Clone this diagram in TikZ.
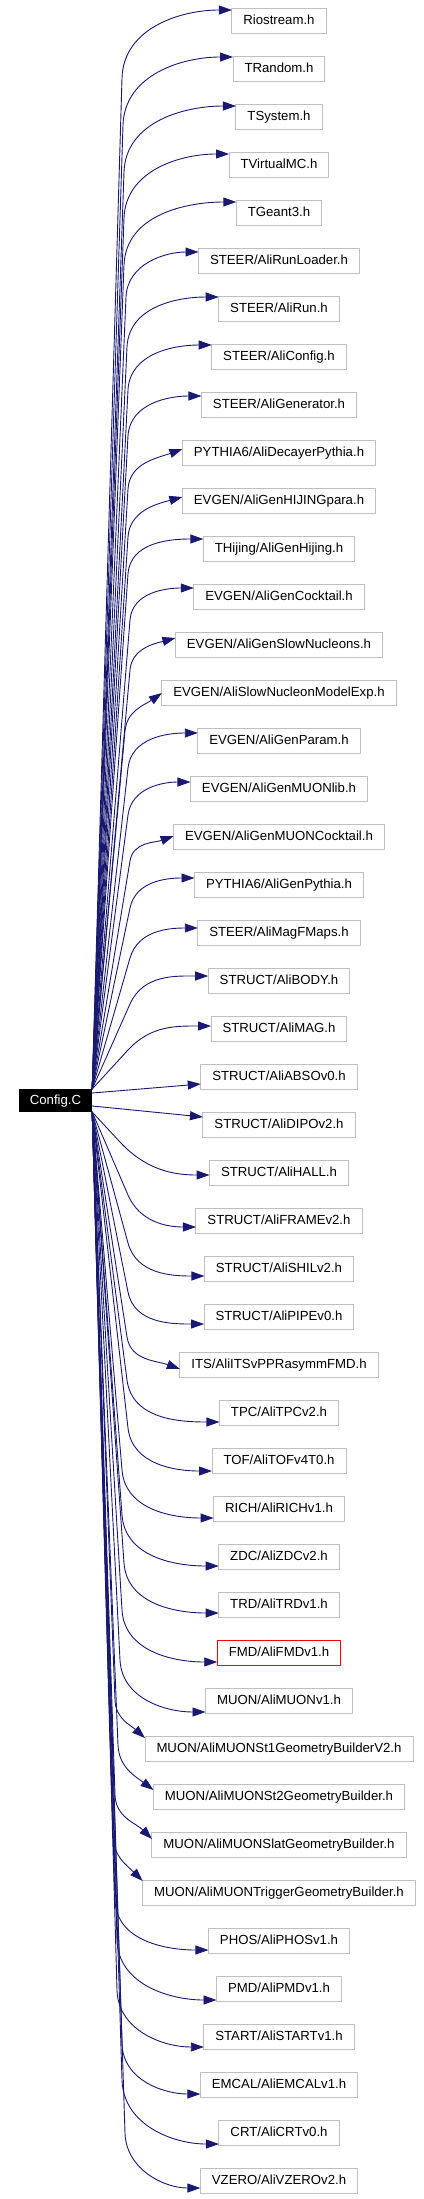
\documentclass[tikz,border=0pt]{standalone}
\usepackage{fontspec}
\setmainfont{Liberation Sans}
\usetikzlibrary{arrows.meta,calc,positioning}
\definecolor{edgeblue}{HTML}{191970}
\definecolor{boxgrey}{HTML}{BFBFBF}

\begin{document}
\begin{tikzpicture}[x=1pt,y=1pt,
  every node/.style={font=\fontsize{13.2}{15}\selectfont},
  hdr/.style={draw=boxgrey,line width=1pt,minimum height=25pt,inner xsep=11.5pt,
              inner ysep=0pt,outer sep=0pt,text height=9.6pt,text depth=2.6pt},
  cfgbox/.style={fill=black,text=white,minimum height=23pt,inner xsep=11pt,
                 inner ysep=0pt,outer sep=0pt,text height=9.6pt,text depth=2.6pt},
  dep/.style={draw=edgeblue,line width=0.9pt,-{Triangle[length=13pt,width=9pt]}}
]
\useasboundingbox (0,0) rectangle (423,-2199);
\node[cfgbox] (cfg) at (55.5,-1100.5) {Config.C};
% included headers, one column
\node[hdr] (rio) at (279,-21) {Riostream.h};
\node[hdr,below=23pt of rio] (trand) {TRandom.h};
\node[hdr,below=23pt of trand] (tsys) {TSystem.h};
\node[hdr,below=23pt of tsys] (tvmc) {TVirtualMC.h};
\node[hdr,below=23pt of tvmc] (tgeant) {TGeant3.h};
\node[hdr,below=23pt of tgeant] (runldr) {STEER/AliRunLoader.h};
\node[hdr,below=23pt of runldr] (alirun) {STEER/AliRun.h};
\node[hdr,below=23pt of alirun] (aliconf) {STEER/AliConfig.h};
\node[hdr,below=23pt of aliconf] (aligen) {STEER/AliGenerator.h};
\node[hdr,below=23pt of aligen] (decay) {PYTHIA6/AliDecayerPythia.h};
\node[hdr,below=23pt of decay] (hijpara) {EVGEN/AliGenHIJINGpara.h};
\node[hdr,below=23pt of hijpara] (hijing) {THijing/AliGenHijing.h};
\node[hdr,below=23pt of hijing] (cocktail) {EVGEN/AliGenCocktail.h};
\node[hdr,below=23pt of cocktail] (slownuc) {EVGEN/AliGenSlowNucleons.h};
\node[hdr,below=23pt of slownuc] (nucexp) {EVGEN/AliSlowNucleonModelExp.h};
\node[hdr,below=23pt of nucexp] (param) {EVGEN/AliGenParam.h};
\node[hdr,below=23pt of param] (muonlib) {EVGEN/AliGenMUONlib.h};
\node[hdr,below=23pt of muonlib] (muoncock) {EVGEN/AliGenMUONCocktail.h};
\node[hdr,below=23pt of muoncock] (pythia) {PYTHIA6/AliGenPythia.h};
\node[hdr,below=23pt of pythia] (magf) {STEER/AliMagFMaps.h};
\node[hdr,below=23pt of magf] (body) {STRUCT/AliBODY.h};
\node[hdr,below=23pt of body] (mag) {STRUCT/AliMAG.h};
\node[hdr,below=23pt of mag] (abso) {STRUCT/AliABSOv0.h};
\node[hdr,below=23pt of abso] (dipo) {STRUCT/AliDIPOv2.h};
\node[hdr,below=23pt of dipo] (hall) {STRUCT/AliHALL.h};
\node[hdr,below=23pt of hall] (frame) {STRUCT/AliFRAMEv2.h};
\node[hdr,below=23pt of frame] (shil) {STRUCT/AliSHILv2.h};
\node[hdr,below=23pt of shil] (pipe) {STRUCT/AliPIPEv0.h};
\node[hdr,below=23pt of pipe] (its) {ITS/AliITSvPPRasymmFMD.h};
\node[hdr,below=23pt of its] (tpc) {TPC/AliTPCv2.h};
\node[hdr,below=23pt of tpc] (tof) {TOF/AliTOFv4T0.h};
\node[hdr,below=23pt of tof] (rich) {RICH/AliRICHv1.h};
\node[hdr,below=23pt of rich] (zdc) {ZDC/AliZDCv2.h};
\node[hdr,below=23pt of zdc] (trd) {TRD/AliTRDv1.h};
\node[hdr,draw=red,below=23pt of trd] (fmd) {FMD/AliFMDv1.h};
\node[hdr,below=23pt of fmd] (muon) {MUON/AliMUONv1.h};
\node[hdr,below=23pt of muon] (stone) {MUON/AliMUONSt1GeometryBuilderV2.h};
\node[hdr,below=23pt of stone] (sttwo) {MUON/AliMUONSt2GeometryBuilder.h};
\node[hdr,below=23pt of sttwo] (slat) {MUON/AliMUONSlatGeometryBuilder.h};
\node[hdr,below=23pt of slat] (trig) {MUON/AliMUONTriggerGeometryBuilder.h};
\node[hdr,below=23pt of trig] (phos) {PHOS/AliPHOSv1.h};
\node[hdr,below=23pt of phos] (pmd) {PMD/AliPMDv1.h};
\node[hdr,below=23pt of pmd] (start) {START/AliSTARTv1.h};
\node[hdr,below=23pt of start] (emcal) {EMCAL/AliEMCALv1.h};
\node[hdr,below=23pt of emcal] (crt) {CRT/AliCRTv0.h};
\node[hdr,below=23pt of crt] (vzero) {VZERO/AliVZEROv2.h};
% edges going up: target/yshift/knee x/hook height/in angle
\foreach \nd/\off/\kx/\hk/\ang in {rio/11/122/68/180, trand/12/123/68/180,
    tsys/11/124/66/180, tvmc/11/124/64/180, tgeant/11/124/63/180,
    runldr/9/126/45/180, alirun/12/127/50/180, aliconf/12/128/45/180,
    aligen/9/128/40/180, decay/4/128/40/200, hijpara/4/128/40/195,
    hijing/10/128/35/180, cocktail/9/130/32/180, slownuc/7/130/32/195,
    nucexp/0/125/38/215, param/8/128/35/180, muonlib/7/128/33/180,
    muoncock/1/130/25/200, pythia/7/130/30/180, magf/5/130/30/180,
    body/5/130/28/180, mag/3/128/24/180}
  \draw[dep] let \p1=([yshift=\off pt]\nd.west), \p2=(cfg.north east),
    \p3=(\kx pt,\y1-\hk pt), \n1={atan2(\y3-\y2,\x3-\x2)} in
    (\p2) -- (\p3) to[out=\n1,in=\ang] (\p1);
\draw[dep] ([yshift=7.5pt]cfg.east) -- ([yshift=-7pt]abso.west);
\draw[dep] ([yshift=-5.5pt]cfg.east) -- ([yshift=8pt]dipo.west);
% edges going down
\foreach \nd/\off/\kx/\hk/\ang in {hall/-2/120/33/180, frame/-6/128/32/180,
    shil/-7/128/33/180, pipe/-7/128/32/180, its/-4/127/32/160,
    tpc/-9/127/42/180, tof/-10/128/43/180, rich/-9/122/48/180,
    zdc/-9/122/51/180, trd/-8/124/50/180, fmd/-9/122/52/180,
    muon/-11/120/52/180, stone/11/115/38/138, sttwo/7/118/45/143,
    slat/6/115/44/135, trig/12/113/45/135, phos/-9/115/50/180,
    pmd/-11/117/60/180, start/-10/117/57/180, emcal/-9/122/50/180,
    crt/-11/122/64/180, vzero/-7/125/55/180}
  \draw[dep] let \p1=([yshift=\off pt]\nd.west), \p2=(cfg.south east),
    \p3=(\kx pt,\y1+\hk pt), \n1={atan2(\y3-\y2,\x3-\x2)} in
    (\p2) -- (\p3) to[out=\n1,in=\ang] (\p1);
\end{tikzpicture}
\end{document}
